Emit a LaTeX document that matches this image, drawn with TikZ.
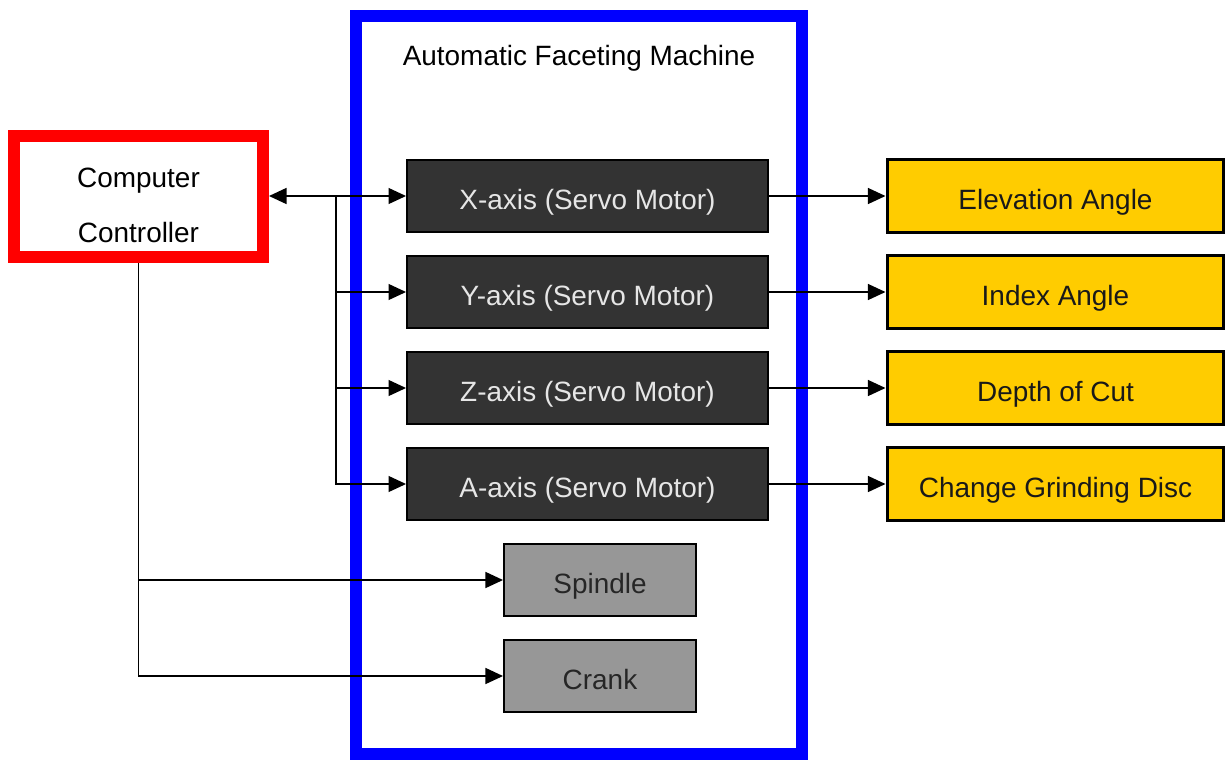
\documentclass[tikz,border=0pt]{standalone}
\usepackage{fontspec}
\setmainfont{Liberation Sans}
\usetikzlibrary{arrows.meta}
\definecolor{darkbox}{HTML}{333333}
\definecolor{lighttext}{HTML}{E6E6E6}
\definecolor{greybox}{HTML}{979797}
\definecolor{yellowbox}{HTML}{FFCC00}
\tikzset{
  conn/.style={line width=1.1pt,black},
  tip/.style={-{Triangle[length=10pt,width=9pt]}},
  both/.style={{Triangle[length=10pt,width=9pt]}-{Triangle[length=10pt,width=9pt]}},
  txt/.style={font=\fontsize{15.9}{19}\selectfont},
  boxtxt/.style={txt,text height=15.6pt,text depth=0pt},
  axisbox/.style={boxtxt,draw=black,line width=1.1pt,fill=darkbox,text=lighttext,minimum width=7.22cm,minimum height=1.44cm},
  greyb/.style={boxtxt,draw=black,line width=1.1pt,fill=greybox,text=black!85,minimum width=3.84cm,minimum height=1.44cm},
  resb/.style={boxtxt,draw=black,line width=1.7pt,fill=yellowbox,text=black!90,minimum width=6.74cm,minimum height=1.46cm},
}
\begin{document}
\begin{tikzpicture}[x=0.02cm,y=-0.02cm]
\useasboundingbox (0,0) rectangle (1232,762);
% machine frame
\node[draw=blue,line width=6.8pt,minimum width=8.92cm,minimum height=14.76cm] (machine) at (579,385) {};
\node[txt] (title) at (579,58) {Automatic Faceting Machine};
% controller
\node[draw=red,line width=6.8pt,fill=white,minimum width=4.98cm,minimum height=2.42cm] (ctrl) at (138.5,196.5) {};
\node[txt] (ctrl1) at (138.5,181) {Computer};
\node[txt] (ctrl2) at (138.5,233) {Controller};
% axis boxes
\node[axisbox] (xb) at (587.5,196) {X-axis (Servo Motor)};
\node[axisbox] (yb) at (587.5,292) {Y-axis (Servo Motor)};
\node[axisbox] (zb) at (587.5,388) {Z-axis (Servo Motor)};
\node[axisbox] (ab) at (587.5,484) {A-axis (Servo Motor)};
% spindle and crank
\node[greyb] (sp) at (600,580) {Spindle};
\node[greyb] (cr) at (600,676) {Crank};
% results
\node[resb] (elev) at (1055.5,196) {Elevation Angle};
\node[resb] (idx) at (1055.5,292) {Index Angle};
\node[resb] (dep) at (1055.5,388) {Depth of Cut};
\node[resb] (chg) at (1055.5,484) {Change Grinding Disc};
% connectors
\coordinate (bus) at (336,196);
\draw[conn,both] (ctrl.east |- xb.west) -- (xb.west);
\draw[conn,tip] (bus) |- (yb.west);
\draw[conn,tip] (bus) |- (zb.west);
\draw[conn,tip] (bus) |- (ab.west);
\draw[conn,tip] (ctrl.south) |- (sp.west);
\draw[conn,tip] (ctrl.south) |- (cr.west);
\draw[conn,tip] (xb.east) -- (elev.west);
\draw[conn,tip] (yb.east) -- (idx.west);
\draw[conn,tip] (zb.east) -- (dep.west);
\draw[conn,tip] (ab.east) -- (chg.west);
\end{tikzpicture}
\end{document}
